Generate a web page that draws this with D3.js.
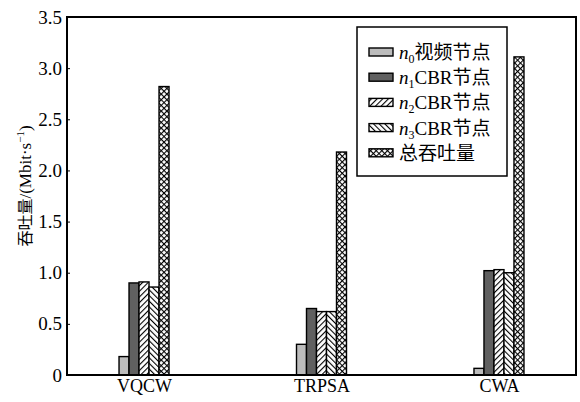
<!DOCTYPE html>
<html>
<head>
<meta charset="utf-8">
<script src="https://cdn.jsdelivr.net/npm/d3@7"></script>
<style>
  body { margin: 0; background: #fff; }
  text { font-family: "Liberation Serif", "Noto Sans CJK SC", serif; fill: #000; }
</style>
</head>
<body>
<div class="container"></div>
<script>
// chart data
const categories = ["VQCW", "TRPSA", "CWA"];
const seriesNames = ["n0", "n1", "n2", "n3", "total"];
const n0Video = [0.18, 0.30, 0.065];
const n1CBR = [0.90, 0.65, 1.02];
const n2CBR = [0.91, 0.62, 1.03];
const n3CBR = [0.86, 0.62, 1.00];
const totalThroughput = [2.82, 2.18, 3.11];
const yTicks = [0, 0.5, 1.0, 1.5, 2.0, 2.5, 3.0, 3.5];

const seriesValues = [n0Video, n1CBR, n2CBR, n3CBR, totalThroughput];

const W = 580, H = 402;
const plotLeft = 67, plotRight = 576, plotTop = 17, plotBottom = 375;

const svg = d3.select(".container").append("svg")
  .attr("width", W).attr("height", H);

// Patterns for hatched bars
const defs = svg.append("defs");
const fwd = defs.append("pattern").attr("id", "fwd")
  .attr("patternUnits", "userSpaceOnUse").attr("width", 4).attr("height", 4)
  .attr("patternTransform", "rotate(45)");
fwd.append("rect").attr("width", 4).attr("height", 4).attr("fill", "#fff");
fwd.append("line").attr("x1", 0).attr("y1", 0).attr("x2", 0).attr("y2", 4)
  .attr("stroke", "#000").attr("stroke-width", 2.2);

const back = defs.append("pattern").attr("id", "back")
  .attr("patternUnits", "userSpaceOnUse").attr("width", 4).attr("height", 4)
  .attr("patternTransform", "rotate(-45)");
back.append("rect").attr("width", 4).attr("height", 4).attr("fill", "#fff");
back.append("line").attr("x1", 0).attr("y1", 0).attr("x2", 0).attr("y2", 4)
  .attr("stroke", "#000").attr("stroke-width", 2.2);

const cross = defs.append("pattern").attr("id", "cross")
  .attr("patternUnits", "userSpaceOnUse").attr("width", 4).attr("height", 4)
  .attr("patternTransform", "rotate(45)");
cross.append("rect").attr("width", 4).attr("height", 4).attr("fill", "#fff");
cross.append("line").attr("x1", 0).attr("y1", 0).attr("x2", 0).attr("y2", 4)
  .attr("stroke", "#000").attr("stroke-width", 2.2);
cross.append("line").attr("x1", 0).attr("y1", 0).attr("x2", 4).attr("y2", 0)
  .attr("stroke", "#000").attr("stroke-width", 2.2);

const fills = ["#bcbcbc", "#606060", "url(#fwd)", "url(#back)", "url(#cross)"];

// Scales
const x = d3.scalePoint().domain(categories).range([plotLeft, plotRight]).padding(0.434);
const sub = d3.scaleBand().domain(seriesNames).range([-25, 25]).padding(0);
const y = d3.scaleLinear().domain([0, 3.5]).range([plotBottom, plotTop]);

// Bars
seriesValues.forEach((vals, si) => {
  svg.append("g").selectAll("rect")
    .data(vals)
    .join("rect")
    .attr("x", (d, i) => x(categories[i]) + sub(seriesNames[si]))
    .attr("y", d => y(d))
    .attr("width", sub.bandwidth())
    .attr("height", d => y(0) - y(d))
    .attr("fill", fills[si])
    .attr("stroke", "#000")
    .attr("stroke-width", 1.4);
});

// Frame
svg.append("rect")
  .attr("x", plotLeft).attr("y", plotTop)
  .attr("width", plotRight - plotLeft).attr("height", plotBottom - plotTop)
  .attr("fill", "none").attr("stroke", "#000").attr("stroke-width", 2);

// Y axis: small inward ticks, labels outside
const yAxis = svg.append("g")
  .attr("transform", `translate(${plotLeft},0)`)
  .call(d3.axisLeft(y).tickValues(yTicks).tickSizeInner(-3).tickSizeOuter(0).tickPadding(5)
    .tickFormat(d => d === 0 ? "0" : d3.format(".1f")(d)));
yAxis.select(".domain").remove();
yAxis.selectAll(".tick line").attr("stroke-width", 1);
yAxis.selectAll("text").style("font-size", "19px")
  .style("font-family", "'Liberation Serif', serif");

// X axis labels
const xAxis = svg.append("g")
  .attr("transform", `translate(0,${plotBottom})`)
  .call(d3.axisBottom(x).tickSize(0).tickPadding(4));
xAxis.select(".domain").remove();
xAxis.selectAll("text").style("font-size", "18px")
  .style("font-family", "'Liberation Serif', serif");

// Y axis title
const yt = svg.append("text")
  .attr("transform", "translate(31,186) rotate(-90)")
  .attr("text-anchor", "middle")
  .style("font-size", "17px");
yt.append("tspan").style("font-family", "'Noto Sans CJK SC'").style("font-size", "16px").text("吞吐量");
yt.append("tspan").text("/(Mbit·s");
yt.append("tspan").attr("dy", -7).style("font-size", "11px").text("−1");
yt.append("tspan").attr("dy", 7).text(")");

// Legend
const legendLabels = [
  { sub: "0", rest: "视频节点" },
  { sub: "1", rest: "CBR节点" },
  { sub: "2", rest: "CBR节点" },
  { sub: "3", rest: "CBR节点" },
  { sub: null, rest: "总吞吐量" }
];
const lg = svg.append("g");
lg.append("rect")
  .attr("x", 357).attr("y", 27).attr("width", 150).attr("height", 149)
  .attr("fill", "#fff").attr("stroke", "#000").attr("stroke-width", 1.5);
legendLabels.forEach((l, i) => {
  const cy = 52 + i * 25.2;
  lg.append("rect")
    .attr("x", 369).attr("y", cy - 4).attr("width", 24).attr("height", 8)
    .attr("fill", fills[i]).attr("stroke", "#000").attr("stroke-width", 1.4);
  const t = lg.append("text").attr("x", 399).attr("y", cy + 7)
    .style("font-size", "19px");
  if (l.sub !== null) {
    t.append("tspan").style("font-style", "italic").text("n");
    t.append("tspan").attr("dy", 4).style("font-size", "12px").text(l.sub);
    t.append("tspan").attr("dy", -4).text(l.rest);
  } else {
    t.text(l.rest);
  }
});
</script>
</body>
</html>
